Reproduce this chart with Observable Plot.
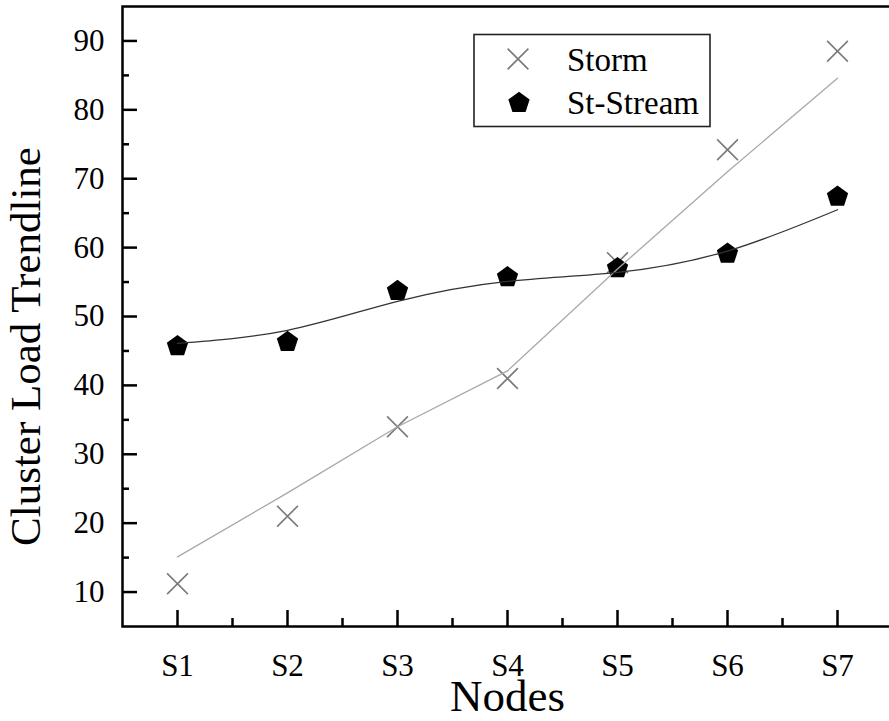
<!DOCTYPE html>
<html>
<head>
<meta charset="utf-8">
<script src="https://cdn.jsdelivr.net/npm/d3@7"></script>
<script src="https://cdn.jsdelivr.net/npm/@observablehq/plot@0.6"></script>
<style>
  body { margin: 0; background: #fff; }
  #wrap { position: relative; width: 889px; height: 721px; overflow: hidden; background: #fff; }
  #wrap svg { display: block; }
  #legend { position: absolute; left: 0; top: 0; }
</style>
</head>
<body>
<div id="wrap"></div>
<script>
// ---- data ----
const nodes = ["S1", "S2", "S3", "S4", "S5", "S6", "S7"];
const nodeIndex = [1, 2, 3, 4, 5, 6, 7];
const storm = [11.2, 21.0, 34.0, 41.0, 57.8, 74.2, 88.5];
const stStream = [45.7, 46.3, 53.7, 55.7, 57.0, 59.1, 67.4];
const stormTrend = [15.1, 24.4, 34.0, 42.1, 56.9, 71.0, 84.6];
const stStreamTrend = [46.1, 48.0, 52.2, 55.1, 56.4, 59.5, 65.5];
const yMajor = [10, 20, 30, 40, 50, 60, 70, 80, 90];
const yMinor = [15, 25, 35, 45, 55, 65, 75, 85];
const xMinor = [1.5, 2.5, 3.5, 4.5, 5.5, 6.5];
const seriesNames = ["Storm", "St-Stream"];

const rows = nodeIndex.map((i, k) => ({
  i, storm: storm[k], stream: stStream[k], stormT: stormTrend[k], streamT: stStreamTrend[k]
}));

const pentagon = {
  draw(ctx, size) {
    const R = Math.sqrt(size / Math.PI);
    for (let j = 0; j < 5; j++) {
      const a = -Math.PI / 2 + j * 2 * Math.PI / 5;
      const px = R * Math.cos(a), py = R * Math.sin(a);
      if (j) ctx.lineTo(px, py); else ctx.moveTo(px, py);
    }
    ctx.closePath();
  }
};
const cross = {
  draw(ctx, size) {
    const R = Math.sqrt(size / Math.PI);
    ctx.moveTo(-R, -R); ctx.lineTo(R, R);
    ctx.moveTo(R, -R); ctx.lineTo(-R, R);
  }
};

const FONT = "'Liberation Serif', 'DejaVu Serif', serif";
const stormColor = "#7a7a7a";
const stormLine = "#a8a8a8";
const streamLine = "#333333";

const chart = Plot.plot({
  width: 889,
  height: 721,
  marginLeft: 122,
  marginRight: -3,
  marginTop: 6,
  marginBottom: 95,
  style: { fontFamily: FONT, background: "transparent", overflow: "visible", color: "#000" },
  x: { domain: [0.5, 7.5] },
  y: { domain: [5, 95] },
  marks: [
    Plot.axisY(yMinor, { tickSize: -7, tickFormat: () => "", strokeWidth: 2.5, label: null }),
    Plot.axisY(yMajor, { tickSize: -15, tickPadding: 33, fontSize: 31, strokeWidth: 2.5, label: null }),
    Plot.axisX(xMinor, { tickSize: -8, tickFormat: () => "", strokeWidth: 2.5, label: null }),
    Plot.axisX(nodeIndex, { tickSize: -16, tickPadding: 43, fontSize: 31, strokeWidth: 2.5,
      tickFormat: (d) => nodes[d - 1], label: null }),
    Plot.frame({ strokeWidth: 2.5 }),
    Plot.dot(rows, { x: "i", y: "storm", symbol: cross, r: 10.4, stroke: stormColor, strokeWidth: 1.6, fill: "none" }),
    Plot.dot(rows, { x: "i", y: "stream", symbol: pentagon, r: 11.2, fill: "#000", stroke: "none" }),
    Plot.line(rows, { x: "i", y: "stormT", stroke: stormLine, strokeWidth: 1.3, curve: "linear" }),
    Plot.line(rows, { x: "i", y: "streamT", stroke: streamLine, strokeWidth: 1.3, curve: "natural" }),
    Plot.text(["Nodes"], { frameAnchor: "bottom", dy: 84, lineAnchor: "bottom", fontSize: 45, fill: "#000" }),
    Plot.text(["Cluster Load Trendline"], { frameAnchor: "left", textAnchor: "middle", dx: -96, dy: 30,
      rotate: -90, fontSize: 43, fill: "#000" })
  ]
});

const wrap = document.getElementById("wrap");
wrap.appendChild(chart);

// ---- legend overlay ----
const lg = d3.select(wrap).append("svg")
  .attr("id", "legend")
  .attr("width", 889).attr("height", 721)
  .style("font-family", FONT);
lg.append("rect").attr("x", 474).attr("y", 34.5).attr("width", 236).attr("height", 92)
  .attr("fill", "#fff").attr("stroke", "#222").attr("stroke-width", 1.6);
const symArea = (r) => r * r * Math.PI;
lg.append("path").attr("transform", "translate(518,59)")
  .attr("d", d3.symbol(cross, symArea(10.4))())
  .attr("fill", "none").attr("stroke", stormColor).attr("stroke-width", 1.6);
lg.append("path").attr("transform", "translate(519,103)")
  .attr("d", d3.symbol(pentagon, symArea(11.2))())
  .attr("fill", "#000");
lg.append("text").attr("x", 567).attr("y", 71).attr("font-size", 33).text(seriesNames[0]);
lg.append("text").attr("x", 567).attr("y", 114).attr("font-size", 33).text(seriesNames[1]);
</script>
</body>
</html>
